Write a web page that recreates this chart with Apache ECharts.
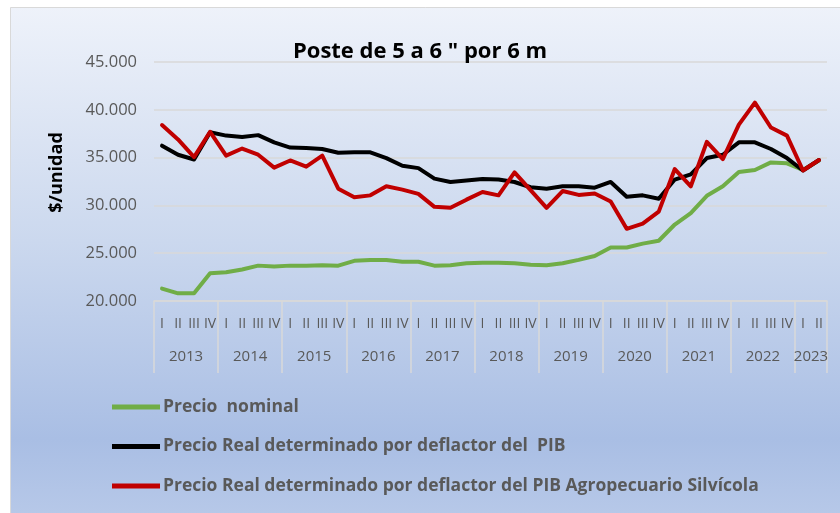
<!DOCTYPE html>
<html>
<head>
    <meta charset="utf-8">
    <title>Poste de 5 a 6 " por 6 m</title>
    <script src="https://cdn.jsdelivr.net/npm/echarts@6/dist/echarts.min.js"></script>
    <style>
        html, body {margin: 0; padding: 0; background: #fff;}
        #main {width: 840px; height: 513px;}
    </style>
</head>
<body>
<div id="main"></div>
<script type="text/javascript">
    // trimestres 2013 I .. 2023 II
    var years = ['2013', '2014', '2015', '2016', '2017', '2018', '2019', '2020', '2021', '2022', '2023'];
    var quartersPerYear = [4, 4, 4, 4, 4, 4, 4, 4, 4, 4, 2];
    var quarterNames = ['I', 'II', 'III', 'IV'];
    var yTicks = [20000, 25000, 30000, 35000, 40000, 45000];

    var nominal = [21300, 20800, 20800, 22900, 23000, 23300, 23700, 23600, 23700, 23700, 23750, 23700,
        24200, 24300, 24300, 24100, 24100, 23700, 23750, 23950, 24000, 24000, 23950, 23800, 23750, 23950,
        24300, 24700, 25600, 25600, 26000, 26300, 28000, 29200, 31000, 32000, 33500, 33700, 34500, 34400,
        33700, 34700];
    var realPib = [36250, 35300, 34800, 37650, 37300, 37150, 37350, 36600, 36050, 36000, 35900, 35500,
        35550, 35550, 34950, 34150, 33900, 32800, 32450, 32600, 32750, 32700, 32450, 31900, 31750, 32000,
        32000, 31850, 32450, 30900, 31050, 30700, 32700, 33250, 34950, 35300, 36600, 36600, 35900, 34950,
        33650, 34750];
    var realAgro = [38400, 36900, 35050, 37700, 35200, 35950, 35300, 33950, 34700, 34050, 35200, 31750,
        30850, 31050, 32000, 31650, 31200, 29850, 29750, 30600, 31400, 31050, 33450, 31600, 29750, 31500,
        31100, 31250, 30400, 27550, 28100, 29350, 33800, 32000, 36650, 34850, 38450, 40750, 38150, 37300,
        33650, 34750];

    var names = ['Precio  nominal', 'Precio Real determinado por deflactor del  PIB',
        'Precio Real determinado por deflactor del PIB Agropecuario Silvícola'];
    var colors = ['#70ad47', '#000000', '#c00000'];

    // categorias y limites de cada año
    var categories = [];
    var yearBounds = [0];
    var yearCenters = [];
    var pos = 0;
    for (var i = 0; i < years.length; i++) {
        for (var q = 0; q < quartersPerYear[i]; q++) {
            categories.push(quarterNames[q]);
        }
        yearCenters.push(pos + quartersPerYear[i] / 2);
        pos += quartersPerYear[i];
        yearBounds.push(pos);
    }

    var FONT = 'Open Sans';
    var myChart = echarts.init(document.getElementById('main'));

    var series = [nominal, realPib, realAgro].map(function (d, k) {
        return {
            name: names[k], type: 'line', data: d, symbol: 'none',
            lineStyle: {width: 4, color: colors[k], cap: 'round', join: 'round'},
            itemStyle: {color: colors[k]}
        };
    });

    myChart.setOption({
        animation: false,
        color: colors,
        textStyle: {fontFamily: FONT},
        graphic: [{
            type: 'rect', z: -10, silent: true,
            shape: {x: 10.5, y: 7.5, width: 840, height: 520},
            style: {
                stroke: '#d9d9d9', lineWidth: 1,
                fill: new echarts.graphic.LinearGradient(0, 0, 0, 1, [
                    {offset: 0, color: '#eef2fa'},
                    {offset: 0.45, color: '#cbd8ee'},
                    {offset: 0.83, color: '#a9bee4'},
                    {offset: 1, color: '#b9cae9'}
                ])
            }
        }],
        title: {
            text: 'Poste de 5 a 6 " por 6 m',
            left: 'center',
            top: 36,
            textStyle: {fontFamily: FONT, fontSize: 22, fontWeight: 'bold', color: '#000'}
        },
        legend: {
            data: names,
            orient: 'vertical',
            left: 112,
            top: 398,
            padding: 0,
            height: 120,
            icon: 'rect',
            itemWidth: 48,
            itemHeight: 5,
            itemGap: 21.5,
            textStyle: {fontFamily: FONT, fontSize: 17.5, fontWeight: 'bold', color: '#595959', padding: [0, 0, 0, -2]}
        },
        grid: {left: 154, right: 13, top: 62, bottom: 212, containLabel: false},
        xAxis: [{
            type: 'category',
            data: categories,
            boundaryGap: true,
            axisLine: {lineStyle: {color: '#d9d9d9', width: 1.5}},
            axisTick: {show: false},
            axisLabel: {interval: 0, margin: 16, fontSize: 14, color: '#595959', fontFamily: FONT}
        }, {
            type: 'value',
            position: 'bottom',
            min: 0,
            max: categories.length,
            axisLine: {show: false},
            splitLine: {show: false},
            axisTick: {
                show: true, inside: false, length: 72, customValues: yearBounds,
                lineStyle: {color: '#d9d9d9', width: 1.5}
            },
            axisLabel: {
                customValues: yearCenters, margin: 48, fontSize: 15, color: '#595959', fontFamily: FONT,
                formatter: function (v) {
                    var idx = yearCenters.indexOf(v);
                    return idx >= 0 ? years[idx] : '';
                }
            }
        }],
        yAxis: {
            type: 'value',
            min: yTicks[0],
            max: yTicks[yTicks.length - 1],
            interval: yTicks[1] - yTicks[0],
            name: '$/unidad',
            nameLocation: 'middle',
            nameRotate: 90,
            nameGap: 88,
            nameTextStyle: {fontFamily: FONT, fontSize: 18, fontWeight: 'bold', color: '#000', padding: [0, 0, 0, 18]},
            axisLine: {show: false},
            axisTick: {show: false},
            splitLine: {lineStyle: {color: '#d9d9d9', width: 1.5}},
            axisLabel: {
                margin: 17, fontSize: 16.5, color: '#595959', fontFamily: FONT,
                formatter: function (v) {
                    return String(v).replace(/\B(?=(\d{3})+(?!\d))/g, '.');
                }
            }
        },
        series: series
    });
</script>
</body>
</html>
